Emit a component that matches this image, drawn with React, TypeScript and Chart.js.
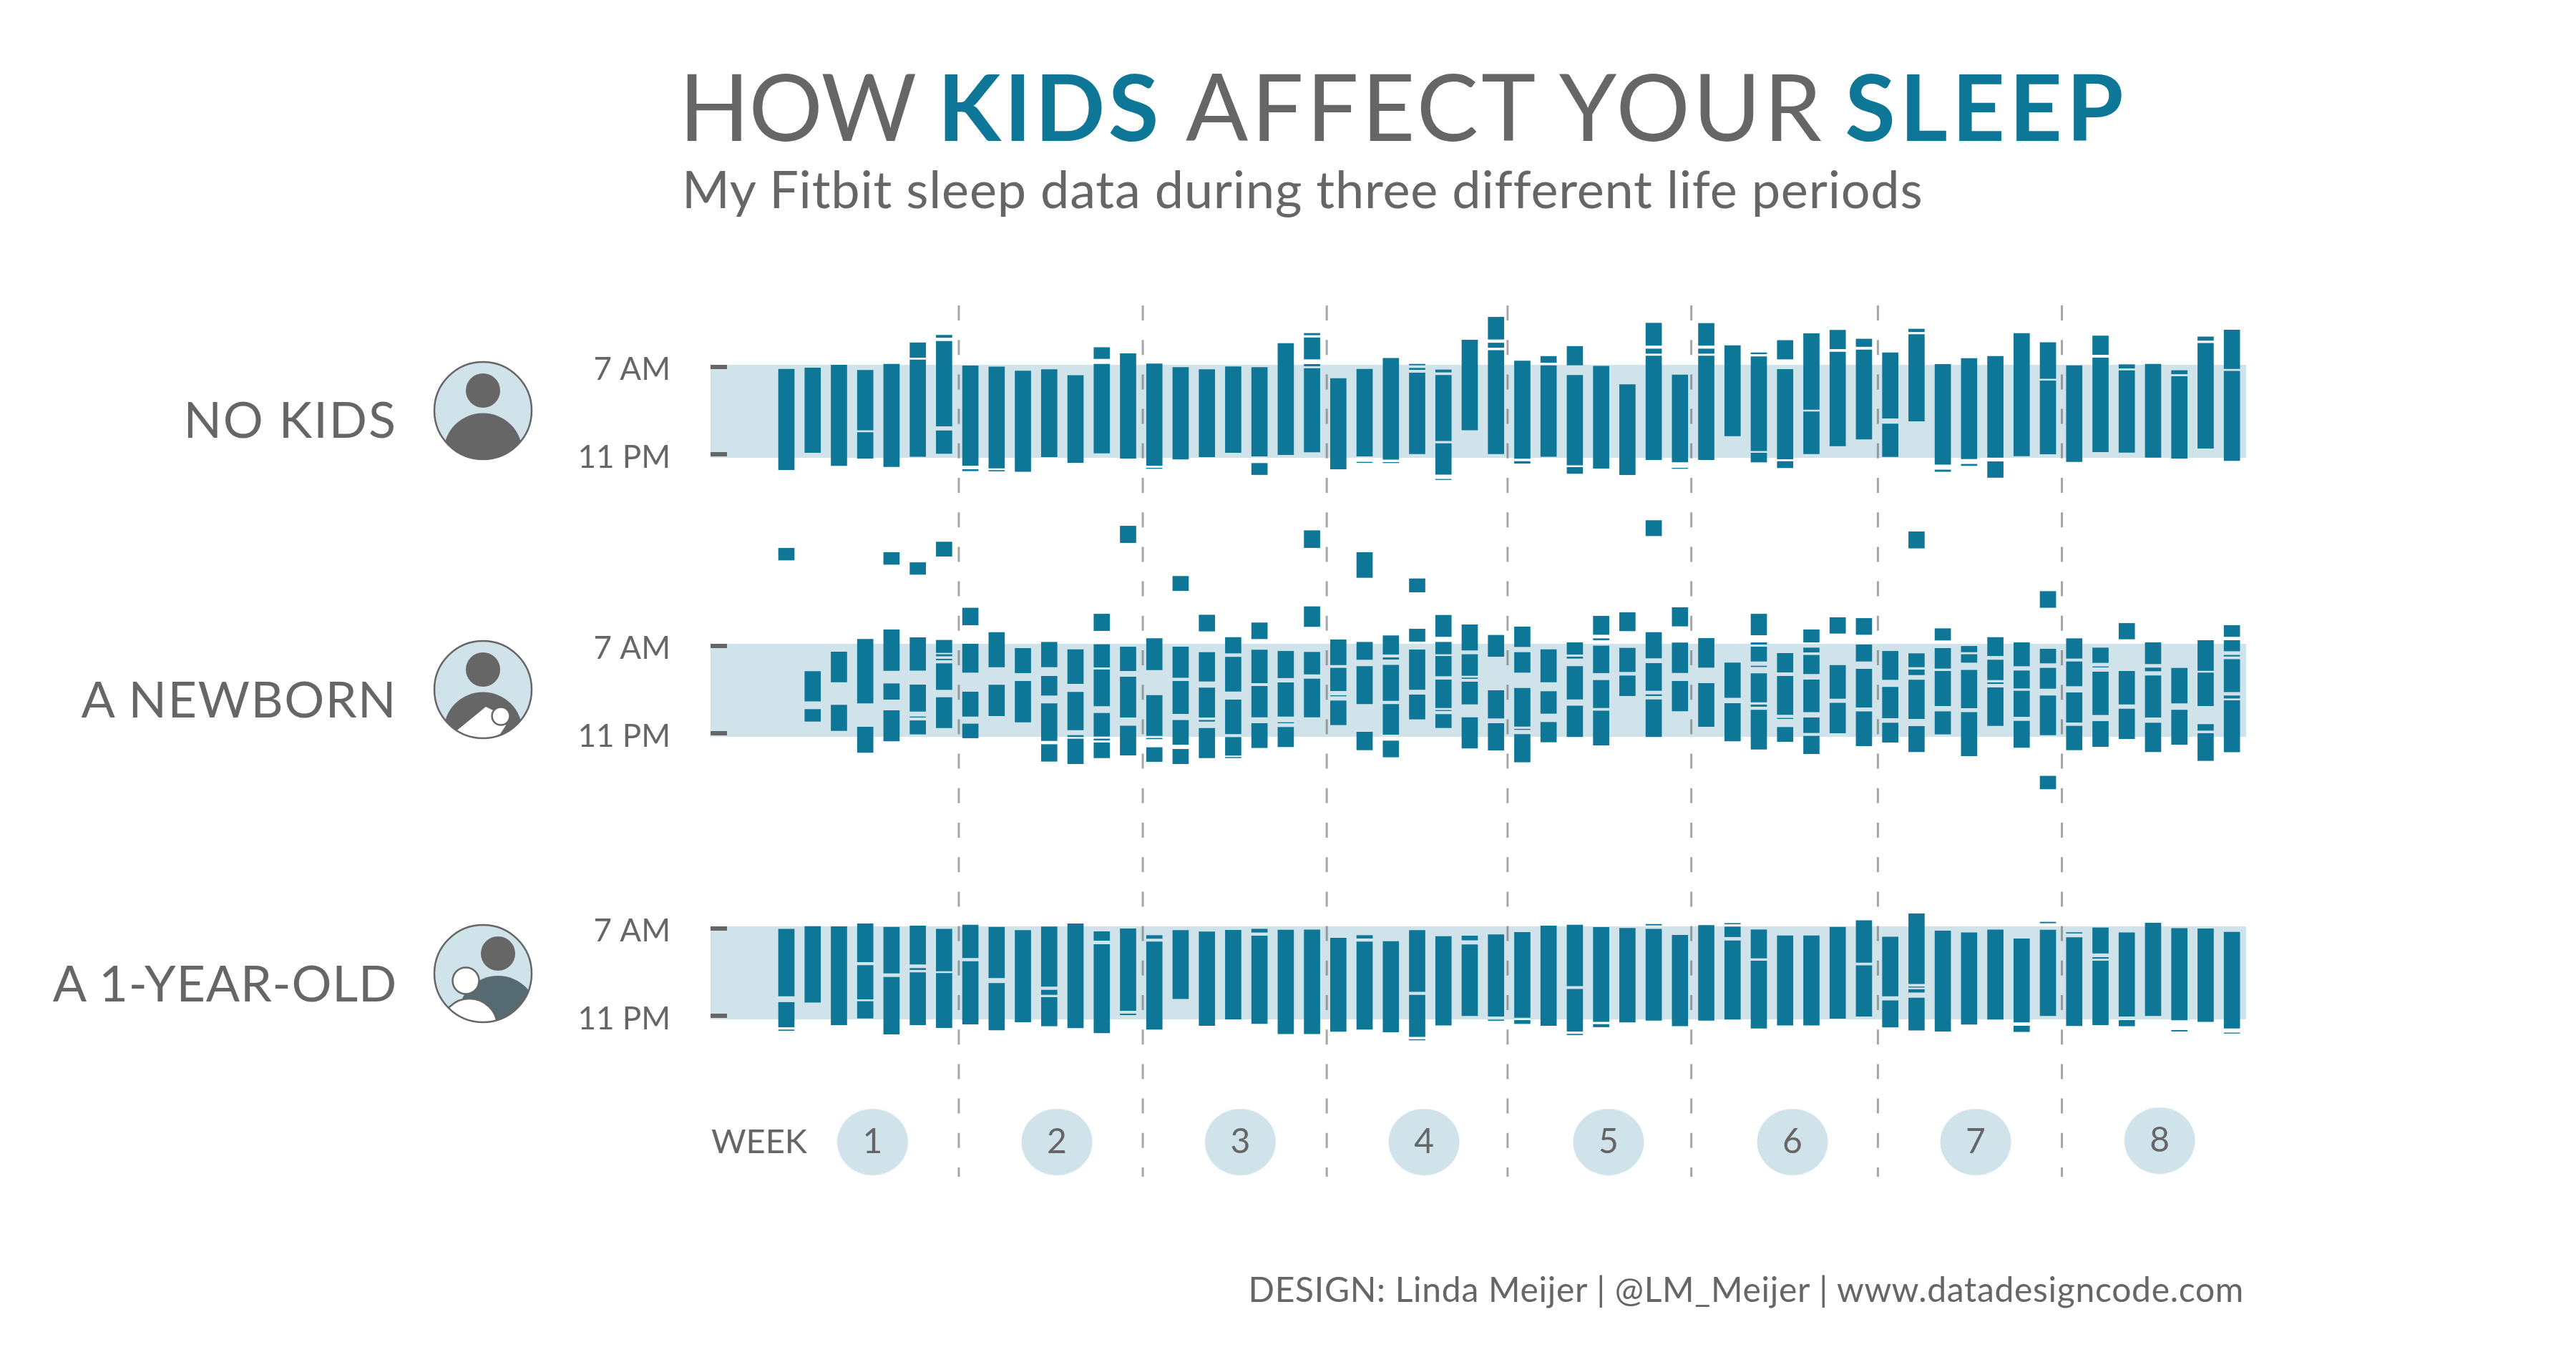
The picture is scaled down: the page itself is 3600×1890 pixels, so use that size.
import React, { useEffect, useRef } from "react";
import { Chart, registerables } from "chart.js";

Chart.register(...registerables);

// Each night lists its sleep blocks as [start, end], in hours after 11 PM.
const noKidsSleep: number[][][] = [
  [[-1.02,7.63]],
  [[0.45,7.73]],
  [[-0.67,7.98]],
  [[2.39,7.53],[-0.04,2.18]],
  [[-0.76,8.06]],
  [[8.63,9.90],[0.12,8.43]],
  [[10.35,10.55],[2.73,10.02],[0.37,2.33]],
  [[-0.65,7.92],[-1.12,-1.00]],
  [[-0.88,7.82],[-1.14,-1.08]],
  [[-1.18,7.47]],
  [[0.08,7.59]],
  [[-0.41,7.08]],
  [[8.53,9.49],[0.41,8.06]],
  [[-0.04,8.96]],
  [[-0.65,8.08],[-0.92,-0.88]],
  [[-0.12,7.78]],
  [[0.08,7.59]],
  [[0.45,7.84]],
  [[0.14,7.78],[-1.45,-0.47]],
  [[0.27,9.84]],
  [[10.57,10.71],[8.49,10.33],[7.90,8.04],[0.49,7.69]],
  [[-0.96,6.82]],
  [[0.14,7.63],[-0.41,-0.37]],
  [[-0.14,8.57],[-0.43,-0.39]],
  [[7.98,8.06],[7.59,7.71],[0.35,7.31]],
  [[7.37,7.57],[1.47,7.10],[-1.43,1.22],[-1.88,-1.84]],
  [[2.39,10.14]],
  [[10.20,12.10],[9.49,9.88],[0.35,9.24]],
  [[-0.06,8.33],[-0.47,-0.31]],
  [[8.20,8.73],[0.12,7.94]],
  [[7.98,9.59],[-0.63,7.10],[-1.35,-0.82]],
  [[-0.90,7.88]],
  [[-1.45,6.31]],
  [[9.67,11.59],[8.98,9.37],[-0.16,8.76]],
  [[-0.37,7.14],[-0.92,-0.88]],
  [[9.67,11.57],[8.98,9.37],[-0.16,8.76]],
  [[1.88,9.65]],
  [[8.94,9.04],[0.61,8.71],[-0.37,0.41]],
  [[8.49,10.10],[-0.10,7.61],[-0.86,-0.31]],
  [[4.16,10.69],[0.35,3.96]],
  [[9.37,10.98],[1.02,9.10]],
  [[9.57,10.22],[1.61,9.29]],
  [[3.41,9.04],[0.10,2.92]],
  [[10.84,11.08],[3.16,10.61]],
  [[-0.57,8.04],[-1.18,-1.04]],
  [[-0.08,8.55],[-0.67,-0.55]],
  [[0.04,8.73],[-1.69,-0.33]],
  [[0.16,10.71]],
  [[6.82,9.92],[0.33,6.63]],
  [[-0.33,7.94]],
  [[8.88,10.49],[0.51,8.59]],
  [[7.71,8.02],[0.47,7.51]],
  [[0.04,8.06]],
  [[7.22,7.51],[-0.04,7.00]],
  [[10.10,10.41],[0.82,9.86]],
  [[7.67,11.00],[-0.24,7.45]],
];

const newbornSleep: number[][][] = [
  [[15.20,16.23]],
  [[3.06,5.62],[1.33,2.36]],
  [[4.72,7.30],[0.53,2.73]],
  [[2.89,8.39],[-1.35,0.84]],
  [[14.83,15.86],[5.70,9.21],[3.22,4.57],[-0.37,2.26]],
  [[13.97,14.99],[5.72,8.53],[2.19,4.47],[1.68,1.72],[0.23,1.39]],
  [[15.53,16.76],[7.24,8.31],[6.95,7.08],[6.61,6.69],[4.06,6.30],[0.78,3.38]],
  [[9.62,11.08],[5.54,7.98],[1.76,3.86],[-0.10,1.11]],
  [[6.01,8.98],[1.81,4.45]],
  [[5.50,7.61],[1.27,4.78]],
  [[6.01,8.14],[3.57,5.21],[-0.33,2.85],[-2.11,-0.66]],
  [[4.57,7.51],[0.59,3.84],[0,0.12],[-2.32,-0.18]],
  [[9.13,10.56],[5.99,7.94],[2.65,5.76],[0.04,2.03],[-0.29,-0.18],[-1.81,-0.51]],
  [[16.70,18.13],[5.68,7.73],[1.68,5.15],[-1.58,0.94]],
  [[5.76,8.45],[0.10,3.57],[-0.18,-0.12],[-2.13,-0.92]],
  [[12.57,13.81],[5.09,7.73],[1.99,4.78],[-0.66,1.42],[-2.32,-1.07]],
  [[9.09,10.48],[4.78,7.26],[1.68,4.21],[1.33,1.42],[-1.81,0.74]],
  [[7.20,8.55],[3.92,6.85],[0.25,3.18],[-1.60,-0.04],[-1.81,-1.76]],
  [[8.43,9.81],[4.64,7.47],[1.70,4.35],[-0.94,1.15]],
  [[5.07,7.36],[1.76,4.66],[1.19,1.23],[-0.86,0.82]],
  [[16.27,17.74],[9.48,11.20],[5.39,7.28],[1.70,4.98]],
  [[6.19,8.35],[3.96,5.91],[3.51,3.55],[1.03,3.10]],
  [[13.70,15.86],[6.65,8.14],[2.83,6.05],[-1.13,0.41]],
  [[7.10,8.70],[6.67,6.81],[3.12,6.17],[0.21,2.79],[-1.74,-0.35]],
  [[12.45,13.60],[8.21,9.27],[4.06,7.49],[1.52,3.61]],
  [[8.62,10.46],[7.12,8.14],[5.23,6.93],[2.50,4.90],[2.24,2.28],[0.78,1.93]],
  [[7.45,9.64],[5.27,7.08],[5.01,5.07],[2.81,4.72],[-0.98,1.66]],
  [[6.91,8.74],[1.60,3.98],[-1.15,1.15]],
  [[7.75,9.46],[5.54,7.26],[0.90,4.18],[0.62,0.66],[-2.17,0.21]],
  [[4.72,7.51],[2.01,3.90],[-0.45,1.25]],
  [[7.10,8.10],[6.75,6.87],[3.24,6.05],[0,2.65]],
  [[8.80,10.38],[8.33,8.45],[5.50,7.82],[2.50,4.86],[-0.72,2.22]],
  [[9.11,10.69],[5.60,7.63],[3.53,5.25]],
  [[17.29,18.61],[6.77,8.98],[3.98,6.32],[3.53,3.63],[0,3.20]],
  [[9.52,11.12],[5.52,8.08],[2.22,4.78]],
  [[5.97,8.47],[0.88,4.59]],
  [[3.38,6.36],[-0.37,2.87]],
  [[8.76,10.56],[7.96,8.10],[6.50,7.73],[6.03,6.09],[2.99,5.44],[2.61,2.75],[-1.07,2.30]],
  [[5.56,7.18],[1.91,5.21],[1.56,1.60],[-0.41,0.82]],
  [[8.14,9.21],[7.28,7.65],[5.42,7.02],[2.15,4.90],[0.35,1.64],[-1.46,0.06]],
  [[8.90,10.26],[3.30,6.15],[0.33,2.91]],
  [[8.80,10.19],[6.50,7.92],[2.54,5.83],[-0.78,2.17]],
  [[4.92,7.36],[1.62,4.27],[-0.47,1.19]],
  [[16.23,17.64],[6.01,7.16],[5.33,5.76],[1.56,4.88],[-1.29,0.90]],
  [[8.31,9.31],[5.89,7.61],[2.67,5.64],[0.23,2.17]],
  [[7.30,7.79],[6.40,7.08],[2.48,5.74],[-1.64,2.11]],
  [[6.97,8.55],[4.90,6.61],[4.57,4.66],[0.96,4.23]],
  [[6.09,8.10],[4.18,5.68],[1.74,3.94],[-0.92,1.35]],
  [[11.12,12.51],[6.34,7.55],[4.16,5.91],[0.16,3.53],[-4.49,-3.38]],
  [[6.75,8.45],[4.37,6.46],[1.25,3.79],[-1.13,0.92]],
  [[6.38,7.65],[5.99,6.03],[1.89,5.58],[-0.84,1.33]],
  [[8.41,9.76],[2.81,5.64],[-0.16,2.40]],
  [[6.28,8.10],[5.66,5.93],[1.68,5.25],[-1.29,1.19]],
  [[2.89,5.91],[-0.66,2.30]],
  [[5.70,8.29],[2.67,5.50],[0.55,1.07],[-2.05,0.29]],
  [[8.62,9.58],[7.38,8.29],[6.93,7.02],[3.86,6.65],[3.32,3.53],[-1.31,3.12]],
];

const oneYearOldSleep: number[][][] = [
  [[2.01,7.77],[-0.66,1.46],[-0.96,-0.90]],
  [[1.46,8.00]],
  [[-0.47,7.98]],
  [[4.94,8.23],[1.74,4.64],[0.10,1.54]],
  [[3.98,7.94],[-1.27,3.63]],
  [[4.74,8.04],[4.27,4.39],[-0.47,4.02]],
  [[4.16,7.77],[-0.72,3.96]],
  [[5.29,8.12],[-0.41,4.98]],
  [[3.57,7.94],[-0.92,3.10]],
  [[-0.23,7.65]],
  [[2.83,7.96],[2.13,2.52],[-0.57,1.89]],
  [[-0.74,8.23]],
  [[6.79,7.55],[-1.16,6.44]],
  [[0.76,7.80],[0.39,0.47]],
  [[6.96,7.22],[-0.86,6.67]],
  [[1.78,7.65]],
  [[-0.53,7.53]],
  [[0.02,7.67]],
  [[7.49,7.77],[-0.37,7.18]],
  [[-1.24,7.69]],
  [[-1.24,7.71]],
  [[-1.04,7.00]],
  [[6.98,7.22],[-0.86,6.67]],
  [[-1.08,6.71]],
  [[2.39,7.65],[-1.49,2.08],[-1.78,-1.73]],
  [[-0.51,7.14]],
  [[6.82,7.18],[0.31,6.43]],
  [[0.27,7.29],[-0.10,-0.04]],
  [[0.16,7.49],[-0.37,-0.08]],
  [[-0.53,8.04]],
  [[2.88,8.12],[-1.02,2.59],[-1.33,-1.27]],
  [[-0.20,7.92],[-0.65,-0.43]],
  [[-0.24,7.84]],
  [[8.10,8.18],[-0.08,7.76]],
  [[-0.57,7.24]],
  [[-0.08,8.08]],
  [[8.20,8.26],[7.10,7.96],[0,6.76]],
  [[5.27,7.71],[-0.76,5.02]],
  [[-0.51,7.20]],
  [[-0.51,7.20]],
  [[0.08,7.94]],
  [[4.90,8.51],[0.27,4.63]],
  [[2.00,7.08],[-0.67,1.61]],
  [[3.06,9.08],[2.76,2.80],[2.33,2.57],[-0.94,1.84]],
  [[-1.02,7.61]],
  [[-0.43,7.45]],
  [[0,7.71]],
  [[-0.24,6.94],[-1.06,-0.57]],
  [[8.29,8.37],[0.31,7.69]],
  [[7.41,7.47],[-0.55,7.04]],
  [[5.69,7.88],[5.24,5.33],[-0.47,5.02]],
  [[0.27,7.45],[-0.57,-0.08]],
  [[0.31,8.29]],
  [[-0.06,7.82],[-1.02,-0.94]],
  [[-0.20,7.80]],
  [[-0.76,7.51],[-1.20,-1.16]],
];

const weekLabels = ["1", "2", "3", "4", "5", "6", "7", "8"];
const weekCentres = [3.28, 10.29, 17.27, 24.26, 31.28, 38.28, 45.25, 52.25];
const weekDividers = [6.56, 13.56, 20.56, 27.44, 34.43, 41.53, 48.53];
const hourTicks = [8, 0];
const hourTickLabels = ["7 AM", "11 PM"];

const TEAL = "#0e7797";
const BAND = "#d0e3ea";
const GREY = "#666666";
const FONT = "Lato, sans-serif";

const W = 3600;
const H = 1890;
const DAY_PX = 36.73;
const DAY0_PX = 1099;
const PX_PER_HOUR = 16.25;
const BAR_W = 22;
const BAND_X: [number, number] = [993, 3139];
const panelBottoms = [640, 1030, 1425];
const LABEL_DROP_7AM = 7 / PX_PER_HOUR;
const dayAt = (px: number) => (px - DAY0_PX) / DAY_PX;

const toBars = (nights: number[][][]) =>
  nights.flatMap((blocks, night) => blocks.map((b) => ({ x: night, y: [b[0], b[1]] })));

const hourAxis = (bottom: number) => ({
  type: "linear",
  axis: "y",
  min: (bottom - H) / PX_PER_HOUR,
  max: bottom / PX_PER_HOUR,
  position: { x: dayAt(937) },
  grid: { display: false },
  border: { display: false },
  afterBuildTicks: (axis: any) => {
    axis.ticks = [{ value: hourTicks[0] - LABEL_DROP_7AM }, { value: hourTicks[1] }];
  },
  afterFit: (axis: any) => {
    axis.width = 0;
    axis.paddingTop = 0;
    axis.paddingBottom = 0;
    axis.paddingLeft = 0;
    axis.paddingRight = 0;
  },
  ticks: {
    autoSkip: false,
    padding: 0,
    color: GREY,
    font: { family: FONT, size: 44 },
    callback: (_v: number, i: number) => hourTickLabels[i],
  },
});

const bandsPlugin = {
  id: "bands",
  beforeDatasetsDraw(chart: any) {
    const { ctx, scales } = chart;
    const x0 = scales.x.getPixelForValue(dayAt(BAND_X[0]));
    const x1 = scales.x.getPixelForValue(dayAt(BAND_X[1]));
    ctx.save();
    ["y0", "y1", "y2"].forEach((id) => {
      const s = scales[id];
      const top = s.getPixelForValue(hourTicks[0]);
      const bottom = s.getPixelForValue(hourTicks[1]);
      ctx.fillStyle = BAND;
      ctx.fillRect(x0, top, x1 - x0, bottom - top);
      ctx.fillStyle = GREY;
      ctx.fillRect(x0, top, 23, 6);
      ctx.fillRect(x0, bottom - 8, 23, 6);
    });
    ctx.restore();
  },
};

const weekNumbersPlugin = {
  id: "weekNumbers",
  afterDatasetsDraw(chart: any) {
    const { ctx } = chart;
    const idx = chart.data.datasets.findIndex((d: any) => d.label === "weeks");
    const meta = chart.getDatasetMeta(idx);
    ctx.save();
    ctx.fillStyle = GREY;
    ctx.font = `48px ${FONT}`;
    ctx.textAlign = "center";
    ctx.textBaseline = "middle";
    meta.data.forEach((pt: any, i: number) => {
      ctx.fillText(weekLabels[i], pt.x, pt.y);
    });
    ctx.restore();
  },
};

const weekBubble = () => {
  const c = document.createElement("canvas");
  c.width = 100;
  c.height = 94;
  const g = c.getContext("2d") as CanvasRenderingContext2D;
  g.fillStyle = BAND;
  g.beginPath();
  g.ellipse(50, 47, 49.5, 46.5, 0, 0, Math.PI * 2);
  g.fill();
  return c;
};

const Label = ({ text, right, y, size, spacing }: { text: string; right: number; y: number; size: number; spacing?: number }) => (
  <div
    style={{
      position: "absolute",
      right: W - right,
      top: y,
      transform: "translateY(-50%)",
      fontSize: size,
      lineHeight: 1,
      letterSpacing: spacing ?? 0,
      color: GREY,
      whiteSpace: "nowrap",
    }}
  >
    {text}
  </div>
);

const Icon = ({ id, cy, kind }: { id: string; cy: number; kind: number }) => (
  <svg
    style={{ position: "absolute", left: 674.5 - 72, top: cy - 72 }}
    width={144}
    height={144}
    viewBox="-72 -72 144 144"
  >
    <defs>
      <clipPath id={id}>
        <circle r={68} />
      </clipPath>
    </defs>
    <circle r={68} fill={BAND} />
    <g clipPath={`url(#${id})`}>
      {kind === 2 ? (
        <>
          <circle cx={21} cy={-28} r={24} fill={GREY} />
          <circle cx={21} cy={58} r={55} fill="#566a72" />
          <circle cx={-19} cy={74} r={39} fill="#fff" stroke={GREY} strokeWidth={2.5} />
          <circle cx={-24} cy={10} r={18.5} fill="#fff" stroke={GREY} strokeWidth={2.5} />
        </>
      ) : (
        <>
          <circle cy={-28} r={24} fill={GREY} />
          <circle cy={58.5} r={55} fill={GREY} />
          {kind === 1 && (
            <>
              <path d="M-40 60 L4 24 L16 30 L32 50 L24 62 L0 72 L-30 66 Z" fill="#fff" />
              <circle cx={25} cy={37} r={12.5} fill="#fff" stroke={GREY} strokeWidth={2.5} />
            </>
          )}
        </>
      )}
    </g>
    <circle r={68} fill="none" stroke={GREY} strokeWidth={2.5} />
  </svg>
);

export default function App() {
  const ref = useRef<HTMLCanvasElement | null>(null);

  useEffect(() => {
    document.body.style.margin = "0";
    const series = [noKidsSleep, newbornSleep, oneYearOldSleep];
    const datasets: any[] = series.map((nights, i) => ({
      type: "bar",
      label: ["No kids", "A newborn", "A 1-year-old"][i],
      data: toBars(nights),
      yAxisID: `y${i}`,
      backgroundColor: TEAL,
      borderWidth: 0,
      borderSkipped: false,
      barThickness: BAR_W,
      grouped: false,
      order: 1,
    }));
    weekDividers.forEach((d) => {
      datasets.push({
        type: "line",
        label: "divider",
        data: [
          { x: d, y: 427 },
          { x: d, y: 1645 },
        ],
        yAxisID: "page",
        borderColor: "rgba(102,102,102,0.58)",
        borderWidth: 3,
        borderDash: [21, 27.2],
        pointRadius: 0,
        order: 2,
      });
    });
    datasets.push({
      type: "line",
      label: "weeks",
      data: weekCentres.map((c, i) => ({ x: c, y: i === 7 ? 1594.5 : 1596.5 })),
      yAxisID: "page",
      showLine: false,
      pointStyle: weekBubble(),
      pointRadius: 48,
      pointBorderWidth: 0,
      order: 3,
    });

    const chart = new Chart(ref.current as HTMLCanvasElement, {
      data: { datasets },
      plugins: [bandsPlugin, weekNumbersPlugin],
      options: {
        animation: false,
        responsive: false,
        devicePixelRatio: 1,
        layout: { padding: 0, autoPadding: false },
        plugins: { legend: { display: false }, tooltip: { enabled: false } },
        scales: {
          x: {
            type: "linear",
            display: false,
            offset: false,
            min: dayAt(0),
            max: dayAt(W),
            grid: { offset: false },
          },
          page: { type: "linear", axis: "y", display: false, min: 0, max: H, reverse: true },
          y0: hourAxis(panelBottoms[0]),
          y1: hourAxis(panelBottoms[1]),
          y2: hourAxis(panelBottoms[2]),
        },
      },
    } as any);
    return () => chart.destroy();
  }, []);

  return (
    <div
      style={{
        position: "relative",
        width: W,
        height: H,
        overflow: "hidden",
        background: "#fff",
        fontFamily: FONT,
      }}
    >
      <canvas ref={ref} width={W} height={H} style={{ position: "absolute", left: 0, top: 0 }} />
      <div
        style={{
          position: "absolute",
          left: 949,
          top: 70,
          fontSize: 129,
          lineHeight: 1.2,
          color: GREY,
          whiteSpace: "nowrap",
        }}
      >
        <span style={{ letterSpacing: -1 }}>HOW </span>
        <span style={{ color: TEAL, fontWeight: 700, letterSpacing: 4.6 }}>KIDS</span>
        <span style={{ letterSpacing: 4.2, marginRight: -9 }}> AFFECT YOUR </span>
        <span style={{ color: TEAL, fontWeight: 700, letterSpacing: 5.8 }}>SLEEP</span>
      </div>
      <div
        style={{
          position: "absolute",
          left: 953,
          top: 220,
          fontSize: 72,
          lineHeight: 1.2,
          letterSpacing: 0.8,
          color: GREY,
          whiteSpace: "nowrap",
        }}
      >
        My Fitbit sleep data during three different life periods
      </div>
      <Label text="NO KIDS" right={555} y={585} size={70} spacing={2} />
      <Label text="A NEWBORN" right={555} y={976} size={70} spacing={1.5} />
      <Label text="A 1-YEAR-OLD" right={555} y={1373} size={70} spacing={0.8} />
      <Icon id="clipA" cy={573.5} kind={0} />
      <Icon id="clipB" cy={964} kind={1} />
      <Icon id="clipC" cy={1360.5} kind={2} />
      <Label text="WEEK" right={1128} y={1594} size={47} />
      <Label
        text="DESIGN: Linda Meijer | @LM_Meijer | www.datadesigncode.com"
        right={3136}
        y={1802}
        size={48}
        spacing={0.7}
      />
    </div>
  );
}
